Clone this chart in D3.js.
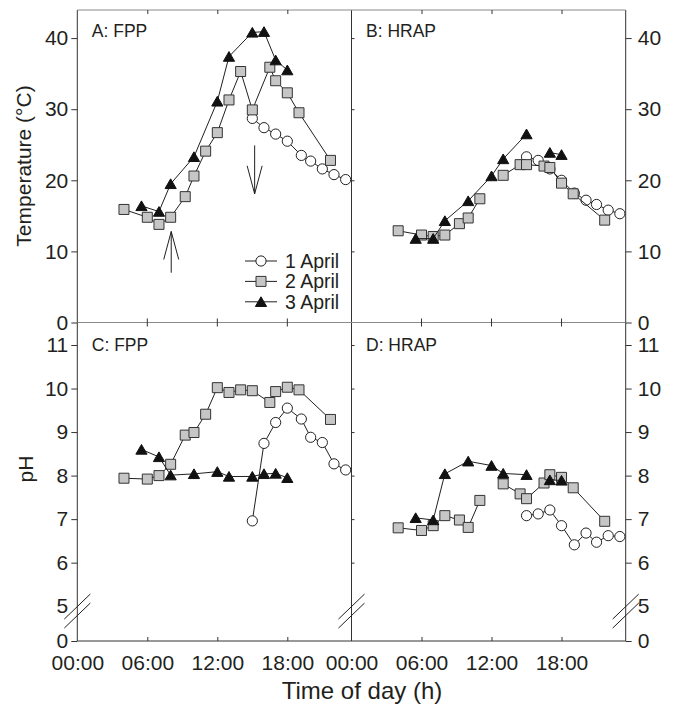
<!DOCTYPE html>
<html>
<head>
<meta charset="utf-8">
<script src="https://cdn.jsdelivr.net/npm/d3@7"></script>
<style>
  body { margin: 0; background: #fff; }
  svg { display: block; }
</style>
</head>
<body>
<script>
// ---- data (hour of day, value) ----
// FPP (facultative pond)
const fppHours1 = [15, 16, 17, 18, 19.2, 20, 21, 22, 23];
const fppTemp1 = [28.7, 27.4, 26.5, 25.5, 23.5, 22.7, 21.6, 20.8, 20.1];
const fppPh1 = [6.96, 8.74, 9.22, 9.55, 9.3, 8.88, 8.76, 8.27, 8.13];

const fppHours2 = [4, 6, 7, 8, 9.25, 10, 11, 12, 13, 14, 15, 16.5, 17, 18, 19, 21.7];
const fppTemp2 = [15.9, 14.8, 13.8, 14.8, 17.7, 20.6, 24.1, 26.7, 31.3, 35.3, 29.9, 35.9, 34.0, 32.3, 29.5, 22.8];
const fppPh2 = [7.94, 7.92, 8.0, 8.26, 8.93, 8.99, 9.41, 10.02, 9.91, 9.97, 9.95, 9.68, 9.93, 10.03, 9.97, 9.29];

const fppHours3 = [5.5, 7, 8, 10, 12, 13, 15, 16, 17, 18];
const fppTemp3 = [16.4, 15.6, 19.5, 23.3, 31.1, 37.4, 40.8, 40.9, 36.9, 35.5];
const fppPh3 = [8.6, 8.43, 8.01, 8.04, 8.09, 7.98, 7.98, 8.04, 8.05, 7.95];

// HRAP (high rate algal pond); null = no reading, line is broken there
const hrapHours1 = [15, 16, 17, 18, 19.1, 20.1, 21, 22, 23];
const hrapTemp1 = [23.3, 22.8, 21.6, 20.0, 18.2, 17.2, 16.6, 15.8, 15.3];
const hrapPh1 = [7.08, 7.12, 7.21, 6.85, 6.41, 6.68, 6.47, 6.62, 6.6];

const hrapHours2 = [4, 6, 7, 8, 9.25, 10, 11, 12, 13, 14.45, 15, 16.5, 17, 18, 19, 21.7];
const hrapTemp2 = [12.9, 12.3, 12.1, 12.3, 13.9, 14.7, 17.4, null, 20.7, 22.2, 22.2, 22.0, 21.8, 19.6, 18.1, 14.4];
const hrapPh2 = [6.8, 6.74, 6.85, 7.08, 6.98, 6.81, 7.43, null, 7.81, 7.58, 7.47, 7.83, 8.02, 7.96, 7.72, 6.95];

const hrapHours3 = [5.5, 7, 8, 10, 12, 13, 15, 16, 17, 18];
const hrapTemp3 = [11.8, 11.8, 14.3, 17.1, 20.6, 23.0, 26.5, null, 23.9, 23.6];
const hrapPh3 = [7.03, 6.98, 8.04, 8.33, 8.23, 8.05, 8.02, null, 7.9, 7.89];

const seriesNames = ["1 April", "2 April", "3 April"];
const hourTicks = [0, 6, 12, 18];
const tempTicks = [0, 10, 20, 30, 40];
const phTicks = [0, 5, 6, 7, 8, 9, 10, 11];

// arrows in panel A: hour, start temp, tip temp
const arrows = [
  { hour: 8.05, from: 7.0, to: 12.8 },
  { hour: 15.2, from: 24.9, to: 18.1 },
];

// ---- layout ----
const width = 674;
const height = 705;
const plotLeft = 77.3, plotMid = 351.5, plotRight = 625.7;
const plotTop = 10, plotMidY = 322.5, plotBottom = 641;
const font = "'Liberation Sans', Arial, Helvetica, sans-serif";
const ink = "#231f20";

const svg = d3.select("body").append("svg")
  .attr("width", width)
  .attr("height", height)
  .style("font-family", font);

const xLeft = d3.scaleLinear().domain([0, 23.5]).range([plotLeft, plotMid]);
const xRight = d3.scaleLinear().domain([0, 23.5]).range([plotMid, plotRight]);
const yTemp = d3.scaleLinear().domain([0, 43.95]).range([plotMidY, plotTop]);
// broken pH axis: 0..5 squeezed into the bottom strip
const yPh = d3.scaleLinear().domain([0, 5, 11.517]).range([plotBottom, 606.2, plotMidY]);

const fmtHour = (h) => String(h).padStart(2, "0") + ":00";

function styleAxis(g, size) {
  g.select(".domain").remove();
  g.selectAll("line").attr("stroke", "#333");
  g.selectAll("text")
    .attr("fill", ink)
    .style("font-family", font)
    .style("font-size", size + "px");
  g.attr("font-size", null).attr("font-family", null);
}

// ---- frame ----
const frame = svg.append("g");
[plotLeft, plotMid, plotRight].forEach((x) => {
  frame.append("line")
    .attr("x1", x).attr("x2", x).attr("y1", plotTop).attr("y2", plotBottom)
    .attr("stroke", "#333").attr("stroke-width", 1);
});
[[plotTop, "#8a8a8a"], [plotMidY, "#8a8a8a"], [plotBottom, "#333"]].forEach(([y, c]) => {
  frame.append("line")
    .attr("x1", plotLeft).attr("x2", plotRight).attr("y1", y).attr("y2", y)
    .attr("stroke", c).attr("stroke-width", 1);
});

// ---- y axes, outer left and right ----
[[d3.axisLeft, plotLeft, -1], [d3.axisRight, plotRight, 1]].forEach(([axisFn, x, side]) => {
  svg.append("g")
    .attr("transform", `translate(${x},0)`)
    .call(axisFn(yTemp).tickValues(tempTicks).tickSize(6)
      .tickPadding(side < 0 ? 3 : 6).tickFormat(d3.format("d")))
    .call((g) => styleAxis(g, 21));

  const ph = svg.append("g")
    .attr("transform", `translate(${x},0)`)
    .call(axisFn(yPh).tickValues(phTicks).tickSize(6)
      .tickPadding(side < 0 ? 3 : 6).tickFormat(d3.format("d")))
    .call((g) => styleAxis(g, 21));
  ph.selectAll(".tick").filter((d) => d === 5).select("line").remove();
});

// inner ticks on the shared vertical line
svg.append("g")
  .attr("transform", `translate(${plotMid},0)`)
  .call(d3.axisRight(yTemp).tickValues(tempTicks.slice(1)).tickSize(3).tickFormat(""))
  .call((g) => styleAxis(g, 10));
svg.append("g")
  .attr("transform", `translate(${plotMid},0)`)
  .call(d3.axisRight(yPh).tickValues(phTicks.slice(2)).tickSize(3).tickFormat(""))
  .call((g) => styleAxis(g, 10));

// ---- x axes ----
[xLeft, xRight].forEach((x) => {
  svg.append("g")
    .attr("transform", `translate(0,${plotBottom})`)
    .call(d3.axisBottom(x).tickValues(hourTicks).tickSize(-4).tickPadding(14).tickFormat(fmtHour))
    .call((g) => styleAxis(g, 21))
    .call((g) => g.selectAll(".tick").filter((d) => d === 0).select("line").remove());

  svg.append("g")
    .attr("transform", `translate(0,${plotTop})`)
    .call(d3.axisTop(x).tickValues(hourTicks.slice(1)).tickSize(-4).tickFormat(""))
    .call((g) => styleAxis(g, 10));

  // ticks crossing the middle horizontal line
  svg.append("g")
    .selectAll("line")
    .data(hourTicks.slice(1))
    .join("line")
    .attr("x1", (d) => x(d)).attr("x2", (d) => x(d))
    .attr("y1", plotMidY - 4).attr("y2", plotMidY + 4)
    .attr("stroke", "#333");
});

// axis breaks on the pH axes
[plotLeft, plotMid, plotRight].forEach((x) => {
  const yc = yPh(4.3);
  [-4.5, 4.5].forEach((off) => {
    svg.append("line")
      .attr("x1", x - 13).attr("y1", yc + off + 12.5)
      .attr("x2", x + 13).attr("y2", yc + off - 12.5)
      .attr("stroke", ink).attr("stroke-width", 1);
  });
});

// ---- markers ----
const markerStyles = [
  { shape: "circle", fill: "#fff", stroke: "#222" },
  { shape: "square", fill: "#c6c6c6", stroke: "#333" },
  { shape: "triangle", fill: "#111", stroke: "#111" },
];

function markerPath(shape) {
  if (shape === "circle") return d3.symbol(d3.symbolCircle, Math.PI * 5.1 * 5.1)();
  if (shape === "square") return d3.symbol(d3.symbolSquare, 10 * 10)();
  return "M0,-5L5.6,4.7L-5.6,4.7Z";
}

function drawMarker(g, cx, cy, style) {
  g.append("path")
    .attr("d", markerPath(style.shape))
    .attr("transform", `translate(${cx},${cy})`)
    .attr("fill", style.fill)
    .attr("stroke", style.stroke)
    .attr("stroke-width", 1);
}

// ---- panels ----
const panels = [
  { label: "A: FPP", x: xLeft, y: yTemp, labelY: 37,
    hours: [fppHours1, fppHours2, fppHours3], values: [fppTemp1, fppTemp2, fppTemp3] },
  { label: "B: HRAP", x: xRight, y: yTemp, labelY: 37,
    hours: [hrapHours1, hrapHours2, hrapHours3], values: [hrapTemp1, hrapTemp2, hrapTemp3] },
  { label: "C: FPP", x: xLeft, y: yPh, labelY: 350.7,
    hours: [fppHours1, fppHours2, fppHours3], values: [fppPh1, fppPh2, fppPh3] },
  { label: "D: HRAP", x: xRight, y: yPh, labelY: 350.7,
    hours: [hrapHours1, hrapHours2, hrapHours3], values: [hrapPh1, hrapPh2, hrapPh3] },
];

panels.forEach((p) => {
  const g = svg.append("g");

  p.values.forEach((vals, i) => {
    const pts = vals.map((v, j) => ({ h: p.hours[i][j], v }));
    const line = d3.line()
      .defined((d) => d.v !== null)
      .x((d) => p.x(d.h))
      .y((d) => p.y(d.v));

    g.append("path")
      .attr("d", line(pts))
      .attr("fill", "none")
      .attr("stroke", ink)
      .attr("stroke-width", 1);

    pts.filter((d) => d.v !== null).forEach((d) => {
      drawMarker(g, p.x(d.h), p.y(d.v), markerStyles[i]);
    });
  });

  g.append("text")
    .attr("x", p.x(0) + 14.5)
    .attr("y", p.labelY)
    .attr("fill", ink)
    .style("font-size", "17.5px")
    .text(p.label);
});

// ---- arrows (panel A) ----
arrows.forEach((a) => {
  const x = xLeft(a.hour);
  const y0 = yTemp(a.from);
  const y1 = yTemp(a.to);
  const dir = y1 < y0 ? 1 : -1; // head opens back toward the tail
  svg.append("path")
    .attr("d", `M${x},${y0}L${x},${y1}M${x - 7.5},${y1 + dir * 28}L${x},${y1}L${x + 7.5},${y1 + dir * 28}`)
    .attr("fill", "none")
    .attr("stroke", ink)
    .attr("stroke-width", 1);
});

// ---- legend (panel A) ----
const legend = svg.append("g").attr("transform", "translate(245,261)");
seriesNames.forEach((name, i) => {
  const row = legend.append("g").attr("transform", `translate(0,${i * 20.4})`);
  row.append("line")
    .attr("x1", 0).attr("x2", 32).attr("y1", 0).attr("y2", 0)
    .attr("stroke", ink);
  drawMarker(row, 16, 0, markerStyles[i]);
  row.append("text")
    .attr("x", 40)
    .attr("y", 0)
    .attr("dy", "0.36em")
    .attr("fill", ink)
    .style("font-size", "19.5px")
    .text(name);
});

// ---- axis titles ----
svg.append("text")
  .attr("transform", "translate(31,166) rotate(-90)")
  .attr("text-anchor", "middle")
  .attr("fill", ink)
  .style("font-size", "21px")
  .text("Temperature (°C)");

svg.append("text")
  .attr("transform", "translate(33,469) rotate(-90)")
  .attr("text-anchor", "middle")
  .attr("fill", ink)
  .style("font-size", "21px")
  .text("pH");

svg.append("text")
  .attr("x", 362)
  .attr("y", 699)
  .attr("text-anchor", "middle")
  .attr("fill", ink)
  .style("font-size", "24px")
  .text("Time of day (h)");
</script>
</body>
</html>
